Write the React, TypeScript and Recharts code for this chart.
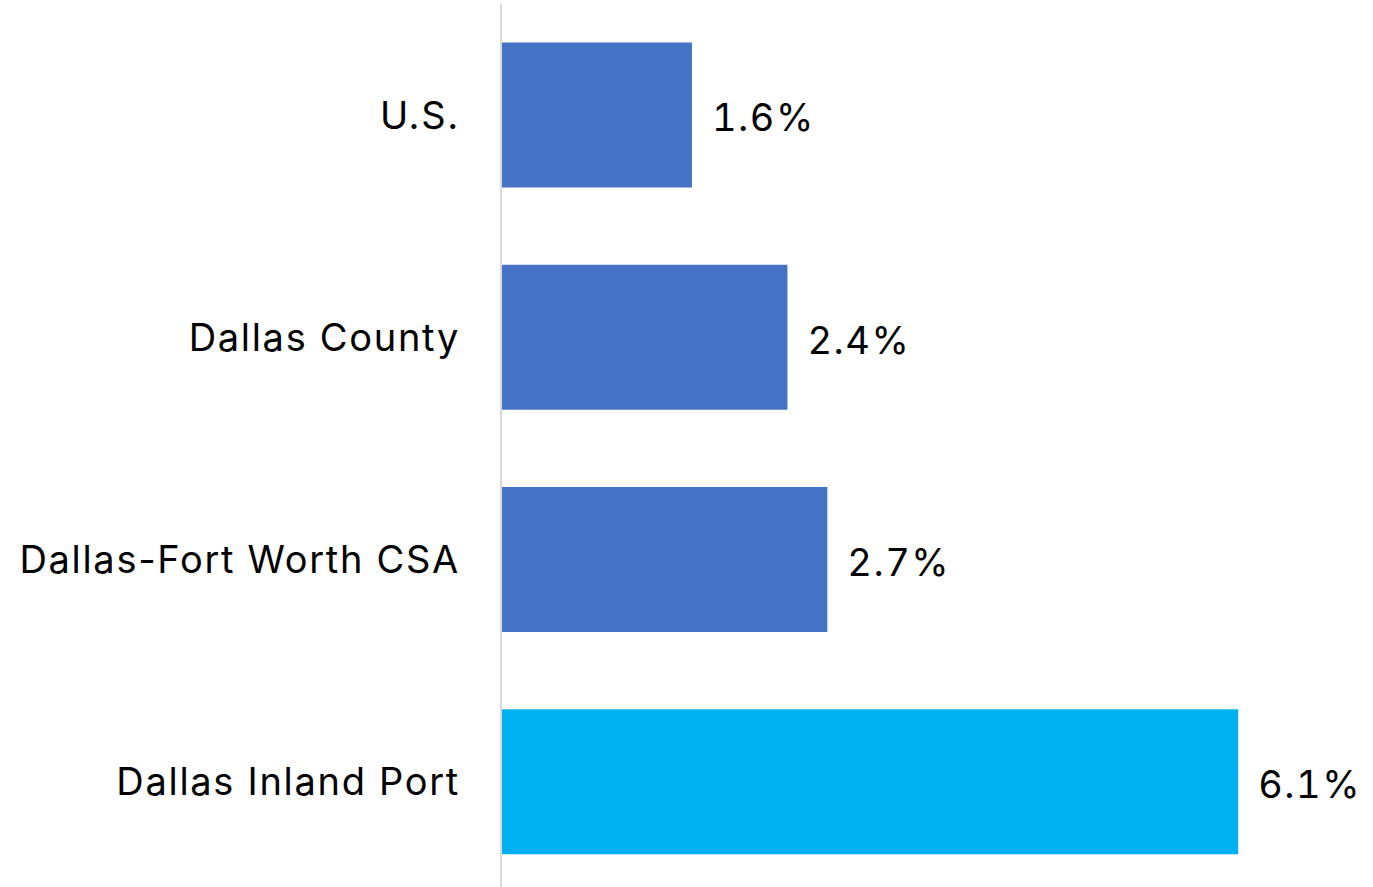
import React from 'react';
import { BarChart, Bar, XAxis, YAxis, Cell, LabelList } from 'recharts';

const regions = ['U.S.', 'Dallas County', 'Dallas-Fort Worth CSA', 'Dallas Inland Port'];
// underlying shares; labels show one decimal
const growth = [1.58, 2.37, 2.7, 6.1];
const barColors = ['#4472C4', '#4472C4', '#4472C4', '#00B0F0'];

const data = regions.map((name, i) => ({ name, value: growth[i] }));

const App: React.FC = () => {
  return (
    <div style={{ position: 'absolute', left: 0, top: 0, fontFamily: 'Inter, sans-serif' }}>
      <BarChart
        width={1373}
        height={893}
        data={data}
        layout="vertical"
        margin={{ top: 4, right: 26, bottom: 0, left: 0 }}
        barCategoryGap={38.5}
      >
        <XAxis type="number" domain={[0, 7]} hide />
        <YAxis
          type="category"
          dataKey="name"
          width={501}
          axisLine={{ stroke: '#d9d9d9', strokeWidth: 2 }}
          tickLine={false}
          tickSize={0}
          tickMargin={41}
          tick={{ fill: '#000000', fontSize: 38, letterSpacing: 1.7, fontFamily: 'Inter, sans-serif' }}
        />
        <Bar dataKey="value" isAnimationActive={false}>
          {data.map((d, i) => (
            <Cell key={d.name} fill={barColors[i]} />
          ))}
          <LabelList
            dataKey="value"
            position="right"
            offset={20}
            formatter={(v: any) => `${Number(v).toFixed(1)}%`}
            style={{
              fill: '#000000',
              fontSize: 38,
              letterSpacing: 1.5,
              fontFamily: 'Inter, sans-serif',
              fontVariantNumeric: 'tabular-nums',
              transform: 'translateY(3px)',
            }}
          />
        </Bar>
      </BarChart>
    </div>
  );
};

export default App;
